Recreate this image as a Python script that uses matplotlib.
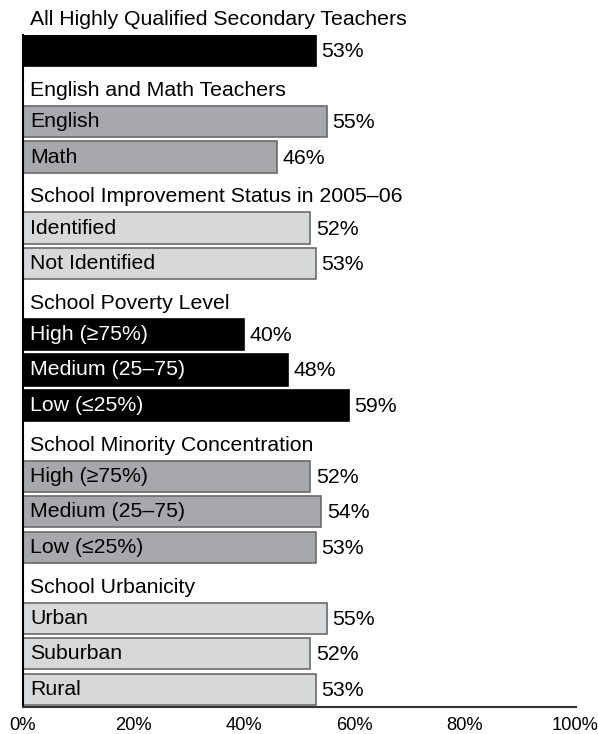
import matplotlib.pyplot as plt

plt.rcParams['font.family'] = ['Liberation Sans', 'DejaVu Sans']

# groups shown top to bottom: header, then its bars
headers = [
    "All Highly Qualified Secondary Teachers",
    "English and Math Teachers",
    "School Improvement Status in 2005\u201306",
    "School Poverty Level",
    "School Minority Concentration",
    "School Urbanicity",
]
bar_labels = [
    [""],
    ["English", "Math"],
    ["Identified", "Not Identified"],
    ["High (\u226575%)", "Medium (25\u201375)", "Low (\u226425%)"],
    ["High (\u226575%)", "Medium (25\u201375)", "Low (\u226425%)"],
    ["Urban", "Suburban", "Rural"],
]
values = [
    [53],
    [55, 46],
    [52, 53],
    [40, 48, 59],
    [52, 54, 53],
    [55, 52, 53],
]
ticks = [0, 20, 40, 60, 80, 100]
tick_labels = ["0%", "20%", "40%", "60%", "80%", "100%"]

styles = [
    ("black", "black", "white"),
    ("#a7a8ab", "#6a6a6a", "black"),
    ("#d7d8da", "#6a6a6a", "black"),
    ("black", "black", "white"),
    ("#a7a8ab", "#6a6a6a", "black"),
    ("#d7d8da", "#6a6a6a", "black"),
]

fig = plt.figure(figsize=(5.98, 7.34), dpi=100)
ax = fig.add_axes([23 / 598, 27 / 734, 552.5 / 598, 672 / 734])

fs = 15.3
slot = 0
for head, labs, vals, (fc, ec, tc) in zip(headers, bar_labels, values, styles):
    ax.text(1.3, slot + 0.12, head, va="center", ha="left", fontsize=fs,
            clip_on=False)
    slot += 1
    for lab, v in zip(labs, vals):
        ax.barh(slot, v, height=0.88, color=fc, edgecolor=ec, linewidth=1.2)
        if lab:
            ax.text(1.3, slot, lab, va="center", ha="left", fontsize=fs,
                    color=tc)
        ax.text(v + 1.0, slot + 0.03, f"{v}%", va="center", ha="left",
                fontsize=fs)
        slot += 1

ax.set_xlim(0, 100)
ax.set_ylim(slot - 0.5, 0.56)
ax.set_xticks(ticks)
ax.set_xticklabels(tick_labels, fontsize=13.2)
ax.set_yticks([])
ax.tick_params(axis="x", length=0, pad=7)
for s in ["top", "right"]:
    ax.spines[s].set_visible(False)
ax.spines["left"].set_linewidth(1.5)
ax.spines["bottom"].set_linewidth(1.5)
ax.spines["bottom"].set_color("#333333")

fig.savefig("out.png", dpi=100)
